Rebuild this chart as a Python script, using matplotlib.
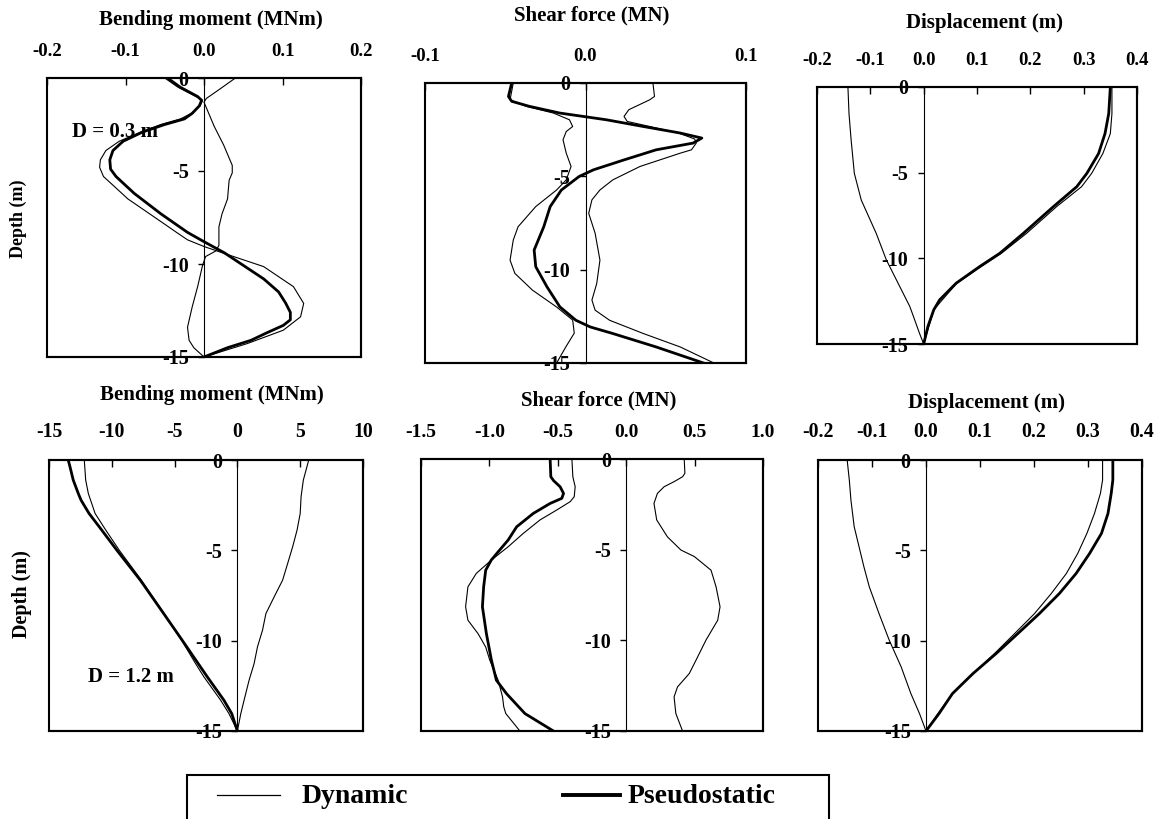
import matplotlib
matplotlib.use("Agg")
import matplotlib.pyplot as plt
from matplotlib.patches import Rectangle
from matplotlib.lines import Line2D

plt.rcParams['font.family'] = ['Liberation Serif', 'DejaVu Serif']
plt.rcParams['font.weight'] = 'bold'
plt.rcParams['axes.unicode_minus'] = False

# ---------------- Data ----------------
# Panel 1: Bending moment (MNm), D = 0.3 m
bm03_ps_depth = [0, -0.5, -1.0, -1.2, -1.5, -1.9, -2.2, -2.5, -2.9, -3.4, -3.9, -4.4, -4.9, -5.3, -6.2, -7.3,
                 -8.3, -8.8, -9.4, -10.1, -10.8, -11.5, -12.1, -12.6, -13.0, -13.3, -13.7, -14.1, -14.5, -15]
bm03_ps = [-0.0465, -0.030, -0.008, -0.003, -0.006, -0.015, -0.025, -0.050, -0.078, -0.103, -0.116, -0.120,
           -0.119, -0.112, -0.089, -0.055, -0.021, 0.000, 0.026, 0.051, 0.076, 0.095, 0.104, 0.110, 0.110,
           0.101, 0.080, 0.060, 0.030, 0.0]
bm03_dyn1_depth = [0, -0.5, -1.0, -1.2, -1.5, -1.9, -2.2, -2.5, -2.9, -3.4, -3.9, -4.4, -4.8, -5.3, -5.8, -6.5,
                   -7.6, -8.3, -8.7, -9.06, -9.42, -10.14, -11.22, -12.12, -12.84, -13.56, -14.28, -15]
bm03_dyn1 = [-0.050, -0.033, -0.010, -0.002, -0.005, -0.016, -0.030, -0.055, -0.080, -0.108, -0.125, -0.132,
             -0.133, -0.128, -0.115, -0.097, -0.059, -0.035, -0.021, 0.0, 0.025, 0.076, 0.114, 0.127, 0.123,
             0.101, 0.055, 0.0]
bm03_dyn2_depth = [0, -0.6, -1.1, -1.3, -2.6, -3.6, -4.7, -5.1, -5.5, -6.5, -7.3, -8.0, -9.0, -9.3, -9.6, -10.1,
                   -11.2, -12.3, -13.4, -14.1, -14.5, -15]
bm03_dyn2 = [0.040, 0.020, 0.003, 0.0, 0.013, 0.025, 0.036, 0.036, 0.032, 0.030, 0.023, 0.019, 0.019, 0.015,
             0.002, -0.002, -0.008, -0.015, -0.021, -0.019, -0.013, 0.0]

# Panel 2: Shear force (MN), D = 0.3 m
sf03_ps_depth = [0, -0.72, -0.98, -1.25, -1.61, -1.97, -2.33, -2.68, -2.95, -3.22, -3.58, -4.12, -4.65, -5.01,
                 -5.73, -6.62, -7.70, -8.95, -9.84, -10.92, -11.99, -12.71, -13.07, -13.42, -14.14, -15]
sf03_ps = [-0.046, -0.048, -0.046, -0.035, -0.016, 0.013, 0.036, 0.059, 0.0725, 0.067, 0.044, 0.024, 0.005,
           -0.004, -0.015, -0.022, -0.026, -0.032, -0.031, -0.024, -0.016, -0.006, 0.003, 0.017, 0.044, 0.0735]
sf03_dyn1_depth = [0, -0.9, -1.25, -1.61, -1.97, -2.33, -2.6, -3.04, -3.76, -4.47, -5.19, -5.73, -6.62, -7.70,
                   -8.41, -9.49, -10.2, -11.1, -12.0, -12.7, -13.4, -14.1, -15]
sf03_dyn1 = [-0.045, -0.047, -0.037, -0.020, -0.010, -0.008, -0.012, -0.014, -0.012, -0.009, -0.012, -0.018,
             -0.031, -0.042, -0.045, -0.047, -0.044, -0.033, -0.018, -0.008, -0.007, -0.012, -0.018]
sf03_dyn2_depth = [0, -0.72, -0.9, -1.43, -1.79, -2.06, -2.33, -2.68, -3.0, -3.22, -3.58, -3.76, -4.47, -5.19,
                   -5.73, -6.26, -6.98, -8.05, -9.49, -10.74, -11.63, -12.17, -12.71, -13.42, -14.14, -15]
sf03_dyn2 = [0.042, 0.043, 0.040, 0.027, 0.024, 0.026, 0.040, 0.058, 0.068, 0.069, 0.066, 0.059, 0.034, 0.017,
             0.009, 0.004, 0.002, 0.006, 0.009, 0.007, 0.004, 0.006, 0.015, 0.036, 0.059, 0.080]

# Panel 3: Displacement (m), D = 0.3 m
ds03_ps_depth = [0, -1.55, -2.72, -3.88, -5.04, -5.82, -6.99, -8.54, -9.70, -10.48, -11.45, -12.42, -13.0,
                 -13.97, -15]
ds03_ps = [0.350, 0.347, 0.340, 0.328, 0.306, 0.287, 0.243, 0.187, 0.143, 0.105, 0.061, 0.030, 0.019, 0.008, 0.0]
ds03_dyn1_depth = [0, -1.55, -2.72, -3.88, -5.04, -5.82, -6.99, -8.54, -9.70, -10.48, -11.45, -13.0, -15]
ds03_dyn1 = [0.353, 0.353, 0.350, 0.336, 0.315, 0.296, 0.249, 0.193, 0.146, 0.108, 0.062, 0.019, 0.0]
ds03_dyn2_depth = [0, -1.55, -3.10, -5.04, -6.60, -8.54, -10.09, -11.45, -12.81, -13.58, -14.36, -15]
ds03_dyn2 = [-0.142, -0.140, -0.136, -0.130, -0.117, -0.089, -0.070, -0.048, -0.026, -0.017, -0.008, 0.0]

# Panel 4: Bending moment (MNm), D = 1.2 m
bm12_ps_depth = [0, -0.37, -1.11, -1.85, -2.22, -2.96, -3.88, -4.99, -6.65, -8.50, -9.97, -11.27, -12.0,
                 -13.30, -14.04, -15]
bm12_ps = [-13.47, -13.33, -13.07, -12.67, -12.45, -11.81, -10.8, -9.6, -7.73, -5.87, -4.4, -3.12, -2.4,
           -1.07, -0.45, 0.0]
bm12_dyn1_depth = [0, -1.11, -1.85, -2.96, -3.88, -4.99, -6.65, -8.50, -9.97, -11.27, -12.0, -13.30, -14.04, -15]
bm12_dyn1 = [-12.19, -12.08, -11.87, -11.33, -10.48, -9.41, -7.65, -5.84, -4.45, -3.33, -2.67, -1.33, -0.67, 0.0]
bm12_dyn2_depth = [0, -1.11, -2.03, -2.96, -3.88, -4.80, -5.73, -6.65, -7.57, -8.50, -9.42, -10.34, -11.27,
                   -12.19, -13.30, -14.04, -15]
bm12_dyn2 = [5.68, 5.25, 5.07, 5.0, 4.75, 4.4, 4.0, 3.6, 2.93, 2.27, 2.0, 1.6, 1.33, 0.93, 0.53, 0.27, 0.0]

# Panel 5: Shear force (MN), D = 1.2 m
sf12_ps_depth = [0, -0.98, -1.2, -1.53, -1.9, -2.17, -2.45, -3.0, -3.74, -4.47, -5.02, -5.57, -6.13, -7.05,
                 -8.15, -9.63, -11.1, -12.2, -12.94, -14.04, -15]
sf12_ps = [-0.556, -0.551, -0.530, -0.483, -0.458, -0.471, -0.556, -0.679, -0.801, -0.863, -0.925, -0.986,
           -1.027, -1.042, -1.051, -1.022, -0.985, -0.949, -0.875, -0.740, -0.532]
sf12_dyn1_depth = [0, -0.98, -1.53, -2.08, -2.35, -2.81, -3.36, -4.1, -4.84, -5.57, -6.31, -7.05, -8.15, -8.89,
                   -9.63, -10.37, -11.1, -12.2, -13.12, -13.67, -14.04, -15]
sf12_dyn1 = [-0.397, -0.390, -0.373, -0.380, -0.409, -0.507, -0.630, -0.752, -0.863, -0.985, -1.096, -1.157,
             -1.174, -1.157, -1.083, -1.027, -0.997, -0.936, -0.904, -0.895, -0.880, -0.777]
sf12_dyn2_depth = [0, -0.79, -0.98, -1.25, -1.53, -1.9, -2.45, -3.36, -4.29, -5.02, -5.38, -6.13, -7.05, -8.15,
                   -8.89, -9.99, -11.1, -11.83, -12.57, -13.12, -14.04, -15]
sf12_dyn2 = [0.424, 0.429, 0.412, 0.350, 0.277, 0.228, 0.203, 0.223, 0.301, 0.400, 0.498, 0.620, 0.657, 0.686,
             0.669, 0.583, 0.510, 0.461, 0.375, 0.350, 0.363, 0.412]

# Panel 6: Displacement (m), D = 1.2 m
ds12_ps_depth = [0, -1.11, -1.85, -2.96, -4.06, -5.17, -6.28, -7.39, -8.50, -9.61, -10.71, -11.82, -12.93,
                 -14.04, -15]
ds12_ps = [0.346, 0.346, 0.343, 0.337, 0.325, 0.303, 0.278, 0.247, 0.210, 0.170, 0.130, 0.087, 0.049, 0.024, 0.0]
ds12_dyn1_depth = [0, -1.11, -1.85, -2.96, -4.06, -5.17, -6.28, -7.39, -8.50, -9.61, -10.71, -11.82, -12.93,
                   -14.04, -15]
ds12_dyn1 = [0.327, 0.327, 0.323, 0.312, 0.298, 0.281, 0.260, 0.232, 0.201, 0.164, 0.127, 0.087, 0.049, 0.022, 0.0]
ds12_dyn2_depth = [0, -1.11, -2.22, -3.69, -4.80, -5.91, -7.02, -8.50, -9.98, -11.45, -12.93, -14.04, -15]
ds12_dyn2 = [-0.146, -0.142, -0.139, -0.133, -0.124, -0.115, -0.105, -0.087, -0.068, -0.046, -0.028, -0.012, 0.0]

titles = ["Bending moment (MNm)", "Shear force (MN)", "Displacement (m)",
          "Bending moment (MNm)", "Shear force (MN)", "Displacement (m)"]
xticks_list = [[-0.2, -0.1, 0.0, 0.1, 0.2], [-0.1, 0.0, 0.1], [-0.2, -0.1, 0.0, 0.1, 0.2, 0.3, 0.4],
               [-15, -10, -5, 0, 5, 10], [-1.5, -1.0, -0.5, 0.0, 0.5, 1.0], [-0.2, -0.1, 0.0, 0.1, 0.2, 0.3, 0.4]]
xtick_labels = [["-0.2", "-0.1", "0.0", "0.1", "0.2"], ["-0.1", "0.0", "0.1"],
                ["-0.2", "-0.1", "0.0", "0.1", "0.2", "0.3", "0.4"],
                ["-15", "-10", "-5", "0", "5", "10"], ["-1.5", "-1.0", "-0.5", "0.0", "0.5", "1.0"],
                ["-0.2", "-0.1", "0.0", "0.1", "0.2", "0.3", "0.4"]]
yticks = [0, -5, -10, -15]
ytick_labels = ["0", "-5", "-10", "-15"]
legend_labels = ["Dynamic", "Pseudostatic"]

# ---------------- Layout ----------------
W, H = 1160, 819
fig = plt.figure(figsize=(W / 100, H / 100), dpi=100)

def px_axes(x0, y0, x1, y1):
    return fig.add_axes([x0 / W, 1 - y1 / H, (x1 - x0) / W, (y1 - y0) / H])

boxes = [(47, 78, 361, 357), (425, 83, 746, 363), (817, 87, 1137, 344),
         (49, 460, 363, 731), (421, 459, 763, 731), (818, 460, 1142, 731)]
title_pos = [(211, 20), (592, 15), (985, 23), (212, 395), (599, 400), (987, 403)]
xtick_fs = [13.5, 13.5, 13.5, 14.2, 14.0, 14.2]

panels = [
    ([(bm03_dyn1, bm03_dyn1_depth), (bm03_dyn2, bm03_dyn2_depth)], (bm03_ps, bm03_ps_depth)),
    ([(sf03_dyn1, sf03_dyn1_depth), (sf03_dyn2, sf03_dyn2_depth)], (sf03_ps, sf03_ps_depth)),
    ([(ds03_dyn1, ds03_dyn1_depth), (ds03_dyn2, ds03_dyn2_depth)], (ds03_ps, ds03_ps_depth)),
    ([(bm12_dyn1, bm12_dyn1_depth), (bm12_dyn2, bm12_dyn2_depth)], (bm12_ps, bm12_ps_depth)),
    ([(sf12_dyn1, sf12_dyn1_depth), (sf12_dyn2, sf12_dyn2_depth)], (sf12_ps, sf12_ps_depth)),
    ([(ds12_dyn1, ds12_dyn1_depth), (ds12_dyn2, ds12_dyn2_depth)], (ds12_ps, ds12_ps_depth)),
]

for i, (box, (dyn, ps)) in enumerate(zip(boxes, panels)):
    ax = px_axes(*box)
    xt = xticks_list[i]
    ax.set_xlim(xt[0], xt[-1])
    ax.set_ylim(-15, 0)
    for xv, dv in dyn:
        ax.plot(xv, dv, color='black', lw=0.8, solid_joinstyle='round')
    ax.plot(ps[0], ps[1], color='black', lw=2.0, solid_joinstyle='round')

    ax.xaxis.set_ticks_position('top')
    ax.set_xticks(xt)
    ax.set_xticklabels(xtick_labels[i])
    ax.tick_params(axis='x', direction='in', length=5, width=1, pad=13, labelsize=xtick_fs[i])

    ax.spines['left'].set_position(('data', 0))
    ax.spines['left'].set_linewidth(0.8)
    for s in ['top', 'right', 'bottom']:
        ax.spines[s].set_linewidth(1.5)
    ax.add_patch(Rectangle((0, 0), 1, 1, transform=ax.transAxes, fill=False,
                           lw=1.5, edgecolor='black', clip_on=False, zorder=5))
    ax.set_yticks(yticks)
    ax.set_yticklabels(ytick_labels)
    ax.tick_params(axis='y', direction='out', length=4, width=1, pad=7, labelsize=14.5)
    for lab in ax.get_xticklabels() + ax.get_yticklabels():
        lab.set_fontweight('bold')

    tx, ty = title_pos[i]
    fig.text(tx / W, 1 - ty / H, titles[i], ha='center', va='center', fontsize=15, fontweight='bold')

    if i == 0:
        ax.text(0.080, 0.806, "D = 0.3 m", transform=ax.transAxes, ha='left', va='center',
                fontsize=15, fontweight='bold')
    if i == 3:
        ax.text(0.124, 0.199, "D = 1.2 m", transform=ax.transAxes, ha='left', va='center',
                fontsize=15, fontweight='bold')

fig.text(18 / W, 1 - 219 / H, "Depth (m)", rotation=90, ha='center', va='center', fontsize=13,
         fontweight='bold')
fig.text(22 / W, 1 - 594 / H, "Depth (m)", rotation=90, ha='center', va='center', fontsize=14.5,
         fontweight='bold')

# ---------------- Legend ----------------
fig.add_artist(Rectangle((187 / W, -0.1), (829 - 187) / W, 0.1 + 1 - 775 / H, transform=fig.transFigure,
                         fill=False, lw=1.5, edgecolor='black'))
line_y = 1 - 795 / H
text_y = 1 - 803 / H
fig.add_artist(Line2D([217 / W, 280 / W], [line_y, line_y], transform=fig.transFigure, color='black', lw=0.9))
fig.add_artist(Line2D([563 / W, 620 / W], [line_y, line_y], transform=fig.transFigure, color='black', lw=2.8))
fig.text(302 / W, text_y, legend_labels[0], ha='left', va='baseline', fontsize=20, fontweight='bold')
fig.text(628 / W, text_y, legend_labels[1], ha='left', va='baseline', fontsize=20, fontweight='bold')

fig.savefig("out.png", dpi=100)
